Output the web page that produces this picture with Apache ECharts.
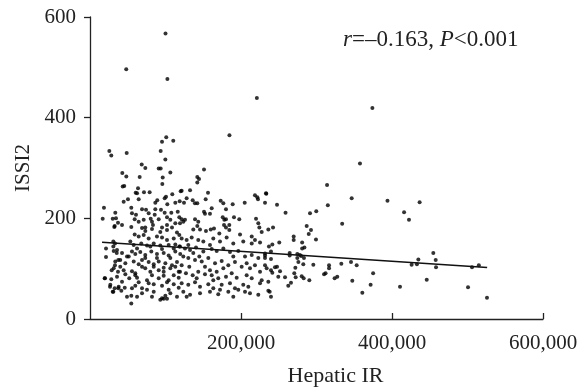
<!DOCTYPE html>
<html>
<head>
<meta charset="utf-8">
<script src="https://cdn.jsdelivr.net/npm/echarts@6/dist/echarts.min.js"></script>
<style>html,body{margin:0;padding:0;background:#fff}#c{width:583px;height:392px}</style>
</head>
<body>
<div id="c"></div>
<script>
// Hepatic IR in thousands, ISSI2
const outlierPoints = [[100,567],[48,496],[102.5,477],[221,439],[374,419],[184.7,365],[101,361]];
const rightPoints = [[357.6,309],[314,266],[346.6,240],[394,235],[436.6,232],[315,226],[416,212],[422.5,197],[334,189],[233.5,249],[231.8,231],[247.7,227],[259,211],[291.4,210],[299.7,214],[287,185],[292.7,177],[289.7,169],[299.3,158],[242.4,182],[250.7,152],[237,144],[241.5,148],[269.8,164],[269.8,157],[281,152],[281,140],[284,142],[264.5,131],[264.5,126],[274.6,129],[278,127],[279.7,125],[274.6,121],[283.4,121],[276,113],[282.5,109],[295.8,108],[316.6,107],[316.6,101],[332.9,110],[345.7,113],[353.2,107],[272,102],[270.6,91],[272.4,83],[280.4,85],[283,81],[290.5,77],[310,89],[312,91],[324,81],[327.5,84],[347.4,76],[375,91],[371.7,68],[360.7,52],[410.6,64],[446,78],[454.7,131],[457.9,117],[458.3,103],[434.9,118],[433,109],[426,108],[500.7,63],[506,103],[515,107],[525.8,42],[231.8,130],[231.8,121],[231.8,107],[239.7,134],[239.7,119],[239.7,97],[241.5,92],[245,103],[247.7,104],[249.4,84],[251.7,95],[258.3,83],[262.6,66],[266.2,72],[236.2,56],[238,54],[239.7,44]];
const upperLeftPoints = [[95.4,352],[110.3,354],[25.6,334],[28.2,325],[48.6,330],[93.6,334],[99.8,317],[68.5,307],[73.3,300],[91,299],[93.6,299],[106.4,291],[42.8,290],[48.1,283],[65.8,282],[96.3,281],[95.8,268],[43.3,263],[45.4,264],[63.6,260],[60.5,251],[62.3,250],[71.5,252],[79,252],[100.7,243],[98.9,240],[109,248],[120.1,254],[64.5,238],[50.3,238],[44.6,233],[86.5,231],[89.1,236],[102.4,228],[113,231],[118.8,234],[18.5,221],[54.7,221],[68.9,218],[74.2,217],[86.5,218],[94,217],[33.5,211],[55.6,210],[60.9,207],[77.7,210],[85.7,207],[98.9,211],[107.7,211],[116.2,213],[16.8,199],[30.1,199],[37.1,191],[42.4,187],[59.2,198],[64.5,193],[71.1,197],[80.4,199],[82.1,193],[83.4,187],[91,198],[102,202],[106.4,197],[113,190],[102,187],[118.3,202],[32.7,185],[54.7,183],[73.2,182],[95.4,182],[108.6,182]];
const upperMidPoints = [[151,297],[142.1,282],[144.4,278],[142.1,271],[121.4,255],[132.5,256],[156.3,251],[128,240],[124.5,231],[136,236],[139,230],[142.1,230],[153.2,238],[173.1,235],[176.6,230],[189,228],[204.9,231],[218.5,246],[221.6,242],[222.5,238],[233.1,250],[161.2,220],[180.1,218],[151,213],[152.3,209],[158.9,209],[175.8,202],[177.9,197],[180.1,198],[190.7,202],[197.7,198],[219.9,199],[121.4,198],[123.6,193],[125.8,197],[119.2,190],[139.1,198],[143.4,193],[142.1,185],[177.5,187],[180.1,182],[184.5,187],[222.9,190],[224.3,182],[136.8,178],[145.7,178],[159.9,178],[236.2,178]];
const lowerLeftPoints = [[68.9,181],[73.3,175],[82.1,179],[93.1,173],[102,177],[115.2,172],[59.2,168],[64.5,164],[71.1,167],[77.7,160],[88.7,164],[95.4,162],[102,157],[110.9,160],[118.3,167],[53.4,154],[57.9,147],[67.9,150],[75.5,146],[84.4,150],[93.1,146],[104.2,147],[113,148],[118.3,144],[31.4,135],[35.8,137],[42.4,131],[49,124],[55.6,134],[60,129],[66.6,133],[73.2,127],[81.2,134],[88.7,129],[97.6,131],[104.2,126],[113,134],[119.5,129],[21.2,123],[33.5,114],[40.1,117],[46.8,111],[57.9,114],[64.5,109],[68.9,117],[77.7,113],[84.4,109],[91,114],[99.8,111],[108.6,107],[115.2,113],[31.4,101],[37.1,94],[44.6,97],[55.6,95],[60,91],[73.2,101],[79.9,94],[91,97],[97.6,94],[106.4,101],[117.5,94],[19.4,81],[28.2,79],[35.8,84],[52,81],[62.3,82],[75.5,77],[91,81],[104.2,77],[117.5,82],[26.9,68],[32.7,61],[38,64],[46,62],[60,66],[68.9,61],[84.4,69],[95.4,66],[110.9,69],[117.5,62],[30.1,54],[41.5,56],[49,44],[54.7,46],[68.9,51],[84.4,54],[95.4,41],[99.8,46],[106.4,51],[115.2,44],[54.7,31],[93.1,38],[97.6,40],[102,40],[21.2,140],[30.9,154],[33.1,150],[30.9,144],[35.4,131],[19.9,81],[26.5,64],[30.9,54],[37.5,61],[28.7,97],[33.1,107],[37.5,117],[34.4,200],[32.2,183],
  [62.3,140],[79.9,144],[95.4,139],[110.9,140],[51.3,124],[73.2,121],[88.7,121],[106.4,121],[40.1,104],[68.9,104],[84.4,104],[97.6,102],[113,104],[46.8,89],[60,87],[82.1,87],[97.6,86],[110.9,87],[42.4,74],[64.5,73],[77.7,71],[102,73],[55.6,61],[75.5,58],[104.2,58],[62.3,44],[82.1,44]];
const lowerMidPoints = [[153.6,175],[164.2,180],[171.3,170],[184.5,177],[198.7,168],[214.2,164],[218.5,157],[227.4,173],[121.4,160],[128,157],[134.7,162],[143.4,157],[163.3,160],[172.2,154],[181,162],[189.8,150],[203,154],[214.2,150],[225.2,152],[119.2,144],[125.8,140],[132.5,137],[140.4,142],[150.1,134],[161.2,139],[167.8,135],[176.6,140],[185.4,133],[196.4,135],[205.3,124],[214.2,127],[222.9,121],[231.8,126],[123.6,124],[130.2,121],[139.1,117],[148,114],[156.7,121],[165.6,111],[174.4,115],[183.2,107],[192,113],[200.9,104],[211.9,101],[218.5,107],[234,101],[119.2,94],[127.1,91],[136,87],[143.4,94],[152.3,89],[161.2,87],[169.9,81],[180.1,84],[187.7,91],[194.3,82],[207.5,87],[214.2,81],[227.4,77],[121.4,71],[130.2,68],[139.1,73],[145.7,64],[156.7,69],[163.3,61],[174.4,68],[185.4,71],[192,61],[203,68],[209.7,64],[225.2,71],[236.2,74],[123.6,54],[132.5,48],[145.7,51],[158.9,54],[169.9,49],[183.2,54],[189.8,44],[205.3,54],[211.9,51],[222.9,48],[128,44],
  [130.2,147],[136.8,131],[144.8,124],[152.3,104],[158.9,97],[167.8,94],[176.6,101],[131.5,104],[121.4,107],[141.3,81],[163.3,77],[172.2,58],[196.4,58],[189.8,124],[207.5,111],[225.2,94],[150.1,154],[158.9,147]];
const fitLine = [[16000,152.4],[526000,102.4]];
const xTicks = [0,200000,400000,600000];
const yTicks = [0,200,400,600];
const annotation = {r:'r', stat:'=–0.163, ', p:'P', pval:'<0.001'};

const allPoints = [].concat(outlierPoints, rightPoints, upperLeftPoints, upperMidPoints, lowerLeftPoints, lowerMidPoints)
  .map(p => [p[0]*1000, p[1]]);

const FONT = '"Liberation Serif", "DejaVu Serif", serif';
const chart = echarts.init(document.getElementById('c'), null, {renderer:'canvas'});
chart.setOption({
  animation:false,
  backgroundColor:'#fff',
  title:{
    left:343, top:28, padding:0,
    text:'{i|'+annotation.r+'}{n|'+annotation.stat+'}{i|'+annotation.p+'}{n|'+annotation.pval+'}',
    textStyle:{
      fontWeight:'normal',
      rich:{
        i:{fontFamily:FONT,fontSize:23,fontStyle:'italic',fontWeight:'normal',color:'#222'},
        n:{fontFamily:FONT,fontSize:23,fontWeight:'normal',color:'#222'}
      }
    }
  },
  grid:{left:90,right:40,top:17,bottom:73},
  xAxis:{
    type:'value', min:xTicks[0], max:xTicks[xTicks.length-1], interval:200000,
    name:'Hepatic IR', nameLocation:'middle', nameGap:46,
    nameTextStyle:{fontFamily:FONT,fontSize:22,color:'#222',padding:[0,0,0,38]},
    axisLine:{lineStyle:{color:'#222',width:1.3}},
    axisTick:{inside:true,length:6,lineStyle:{color:'#222',width:1.3}},
    axisLabel:{showMinLabel:false,margin:14,fontFamily:FONT,fontSize:21,color:'#222',
      formatter:v=>String(v).replace(/\B(?=(\d{3})+(?!\d))/g,',')},
    splitLine:{show:false}
  },
  yAxis:{
    type:'value', min:yTicks[0], max:yTicks[yTicks.length-1], interval:200,
    name:'ISSI2', nameLocation:'middle', nameGap:56, nameRotate:90,
    nameTextStyle:{fontFamily:FONT,fontSize:21,color:'#222'},
    axisLine:{show:true,lineStyle:{color:'#222',width:1.3}},
    axisTick:{show:true,length:6,lineStyle:{color:'#222',width:1.3}},
    axisLabel:{margin:14,fontFamily:FONT,fontSize:21,color:'#222'},
    splitLine:{show:false}
  },
  series:[
    {type:'scatter',data:allPoints,symbolSize:4,itemStyle:{color:'#000'},silent:true},
    {type:'line',data:fitLine,symbol:'none',lineStyle:{color:'#111',width:1.5},silent:true,z:3}
  ]
});
</script>
</body>
</html>
